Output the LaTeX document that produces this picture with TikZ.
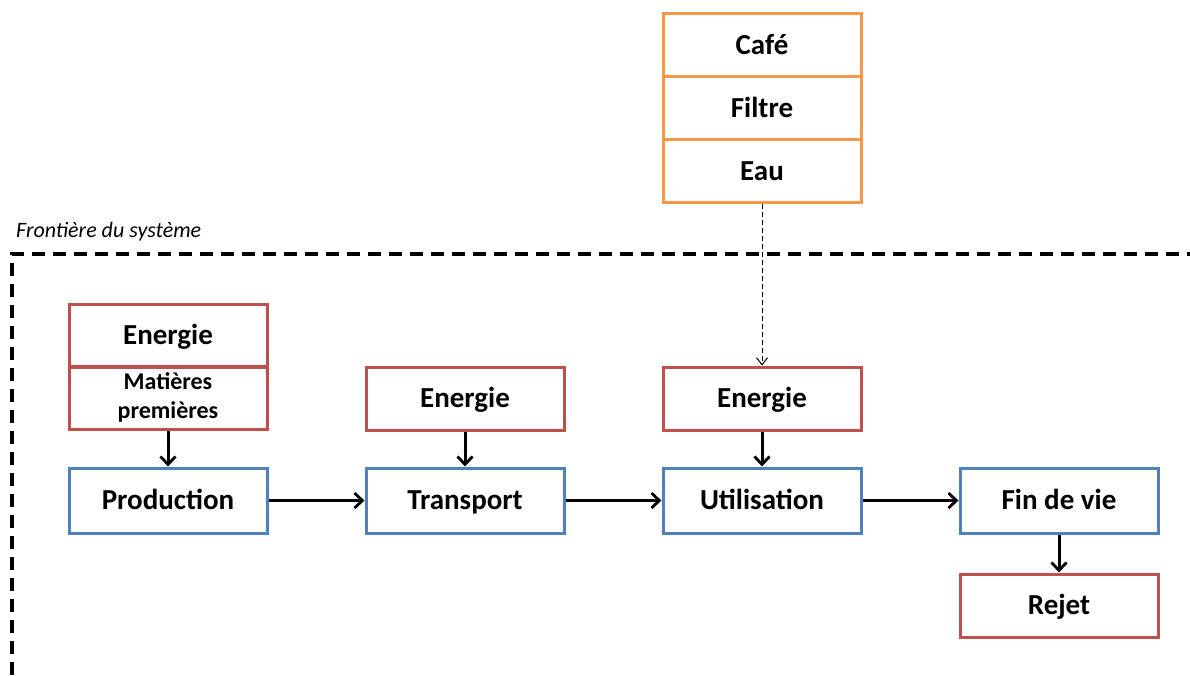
\documentclass[tikz,border=0pt]{standalone}
\usepackage{fontspec}
\setmainfont{Carlito}
\usetikzlibrary{arrows.meta}
\definecolor{cOrange}{HTML}{F79646}
\definecolor{cRed}{HTML}{C0504D}
\definecolor{cBlue}{HTML}{4F81BD}
\tikzset{
  box/.style={draw, line width=3pt, minimum width=198pt, inner sep=0pt, align=center,
    font=\fontsize{29}{31}\selectfont\bfseries},
  onerow/.style={text height=20pt, text depth=2pt},
  stagebox/.style={box, onerow, draw=cBlue, minimum height=65pt},
  inbox/.style={box, draw=cRed, minimum height=63pt},
  coffbox/.style={box, onerow, draw=cOrange, minimum height=63pt},
  flow/.style={line width=3pt, -{Straight Barb[length=8pt,width=15pt,line width=2.8pt]}},
  feed/.style={line width=1pt, dash pattern=on 5pt off 3pt, -{Straight Barb[length=7pt,width=11pt,line width=1pt]}},
}
\begin{document}
\begin{tikzpicture}[x=1pt,y=-1pt]
\useasboundingbox (0,0) rectangle (1190,675);

% system boundary
\draw[line width=3.6pt, dash pattern=on 13pt off 8pt] (12,675) -- (12,254) -- (1190,254);
\node[anchor=west, inner sep=0pt, font=\fontsize{22}{24}\selectfont\itshape] (frontier) at (16,232) {Frontière du système};

% coffee inputs outside the boundary
\node[coffbox] (cafe) at (762,45) {Café};
\node[coffbox] (filtre) at (762,108) {Filtre};
\node[coffbox] (eau) at (762,171) {Eau};

% life-cycle stages
\node[stagebox] (prod) at (168,500.5) {Production};
\node[stagebox] (trans) at (465,500.5) {Transport};
\node[stagebox] (util) at (762,500.5) {Utilisation};
\node[stagebox] (fin) at (1059,500.5) {Fin de vie};

% inputs and outputs of the stages
\node[inbox, onerow] (e1) at (168,335.5) {Energie};
\node[inbox, font=\fontsize{24}{29}\selectfont\bfseries] (mat) at (168,397.5) {Matières\\premières};
\node[inbox, onerow] (e2) at (465,398.5) {Energie};
\node[inbox, onerow] (e3) at (762,398.5) {Energie};
\node[inbox, onerow] (rejet) at (1059,605.5) {Rejet};

% flows
\draw[flow] (mat.south) -- (prod.north);
\draw[flow] (e2.south) -- (trans.north);
\draw[flow] (e3.south) -- (util.north);
\draw[flow] (prod.east) -- (trans.west);
\draw[flow] (trans.east) -- (util.west);
\draw[flow] (util.east) -- (fin.west);
\draw[flow] (fin.south) -- (rejet.north);
\draw[feed] (eau.south) -- (e3.north);
\end{tikzpicture}
\end{document}
